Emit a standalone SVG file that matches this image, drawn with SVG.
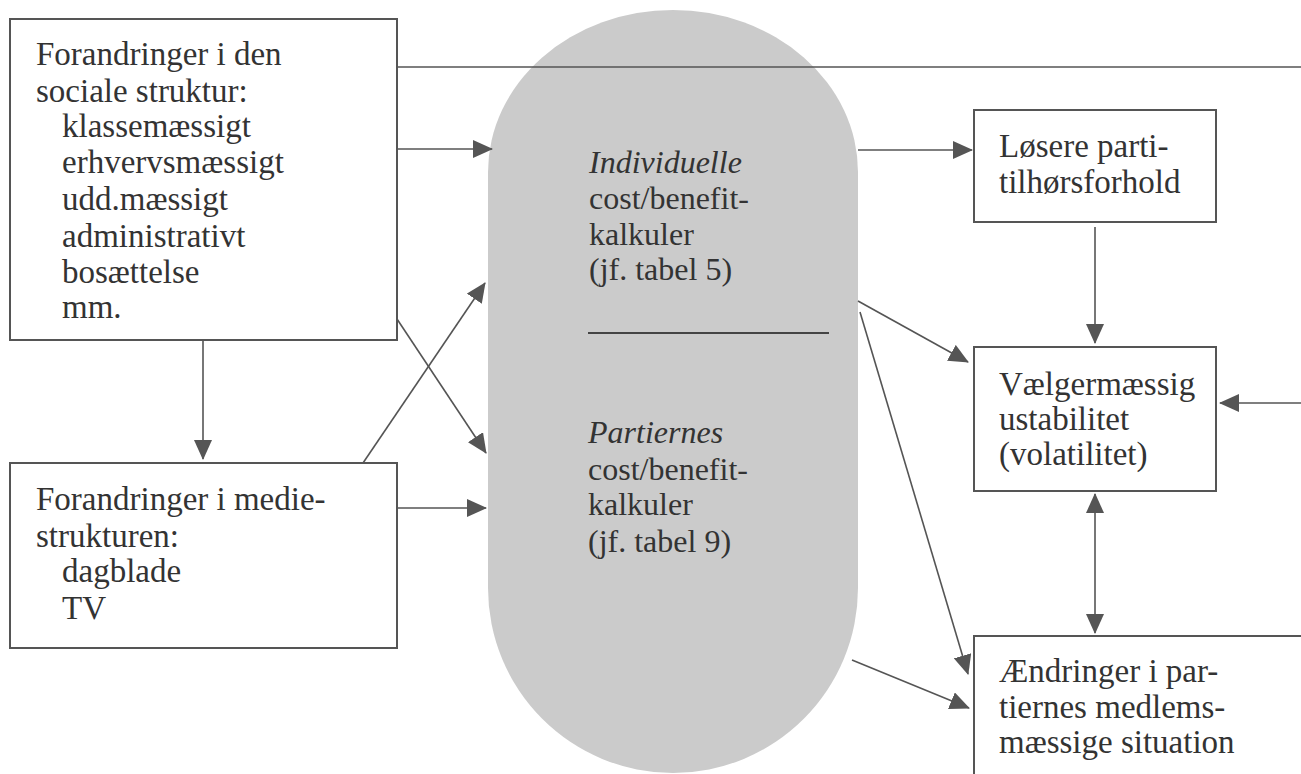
<svg xmlns="http://www.w3.org/2000/svg" width="1301" height="774" viewBox="0 0 1301 774">
<style>
.box{fill:#ffffff;stroke:#555555;stroke-width:2}
.t{font-family:'Liberation Serif','DejaVu Serif','Noto Serif',serif;font-size:33px;fill:#333333}
.s{font-family:'Liberation Serif','DejaVu Serif','Noto Serif',serif;font-size:32px;fill:#333333}
.i{font-style:italic}
.c{fill:none;stroke:#555555;stroke-width:1.6}
</style>
<defs>
<marker id="ah" markerUnits="userSpaceOnUse" markerWidth="20" markerHeight="18" refX="19" refY="9" orient="auto-start-reverse">
<path d="M0,0 L20,9 L0,18 Z" fill="#555555"/>
</marker>
</defs>
<rect width="1301" height="774" fill="#ffffff"/>

<g id="stadium">
<path d="M488,172 A185 162 0 0 1 858,172 L858,588 A185 185 0 0 1 488,588 Z" fill="#cbcbcb"/>
<text class="s i" x="589" y="173">Individuelle</text>
<text class="s" x="589" y="209">cost/benefit-</text>
<text class="s" x="589" y="245">kalkuler</text>
<text class="s" x="589" y="280">(jf. tabel 5)</text>
<line x1="588" y1="333" x2="829" y2="333" stroke="#444444" stroke-width="2"/>
<text class="s i" x="588" y="443">Partiernes</text>
<text class="s" x="588" y="480">cost/benefit-</text>
<text class="s" x="588" y="515">kalkuler</text>
<text class="s" x="588" y="552">(jf. tabel 9)</text>
</g>

<g id="connectors">
<line class="c" x1="397" y1="67" x2="1301" y2="67"/>
<line class="c" x1="397" y1="149" x2="492" y2="149" marker-end="url(#ah)"/>
<line class="c" x1="397" y1="508" x2="486" y2="508" marker-end="url(#ah)"/>
<line class="c" x1="203" y1="340" x2="203" y2="459" marker-end="url(#ah)"/>
<line class="c" x1="397" y1="319" x2="486" y2="453" marker-end="url(#ah)"/>
<line class="c" x1="363" y1="463" x2="485" y2="283" marker-end="url(#ah)"/>
<line class="c" x1="858" y1="150" x2="972" y2="150" marker-end="url(#ah)"/>
<line class="c" x1="1095" y1="227" x2="1095" y2="343" marker-end="url(#ah)"/>
<line class="c" x1="858" y1="301" x2="968" y2="362" marker-end="url(#ah)"/>
<line class="c" x1="860" y1="312" x2="968" y2="674" marker-end="url(#ah)"/>
<line class="c" x1="852" y1="660" x2="969" y2="708" marker-end="url(#ah)"/>
<line class="c" x1="1301" y1="403" x2="1220" y2="403" marker-end="url(#ah)"/>
<line class="c" x1="1095" y1="494" x2="1095" y2="633" marker-start="url(#ah)" marker-end="url(#ah)"/>
</g>

<g id="social">
<rect class="box" x="10" y="19" width="387" height="321"/>
<text class="t" x="36" y="65">Forandringer i den</text>
<text class="t" x="36" y="102">sociale struktur:</text>
<text class="t" x="62" y="137">klassemæssigt</text>
<text class="t" x="62" y="173">erhvervsmæssigt</text>
<text class="t" x="62" y="210">udd.mæssigt</text>
<text class="t" x="62" y="247">administrativt</text>
<text class="t" x="62" y="283">bosættelse</text>
<text class="t" x="62" y="318">mm.</text>
</g>

<g id="media">
<rect class="box" x="10" y="463" width="387" height="185"/>
<text class="t" x="36" y="510">Forandringer i medie-</text>
<text class="t" x="36" y="547">strukturen:</text>
<text class="t" x="62" y="582">dagblade</text>
<text class="t" x="62" y="619">TV</text>
</g>

<g id="loesere">
<rect class="box" x="974" y="110" width="242" height="112"/>
<text class="t" x="999" y="157">Løsere parti-</text>
<text class="t" x="999" y="193">tilhørsforhold</text>
</g>

<g id="volatilitet">
<rect class="box" x="974" y="347" width="242" height="144"/>
<text class="t" x="999" y="395">Vælgermæssig</text>
<text class="t" x="999" y="430">ustabilitet</text>
<text class="t" x="999" y="465">(volatilitet)</text>
</g>

<g id="aendringer">
<path class="box" d="M1305,636 L974,636 L974,780"/>
<text class="t" x="999" y="682">Ændringer i par-</text>
<text class="t" x="999" y="718">tiernes medlems-</text>
<text class="t" x="999" y="753">mæssige situation</text>
</g>
</svg>
